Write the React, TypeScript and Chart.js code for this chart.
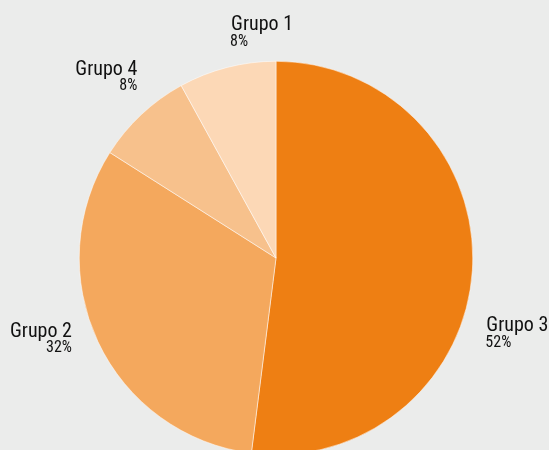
import React, { useEffect, useRef } from "react";
import { Chart, registerables } from "chart.js";

Chart.register(...registerables);

const categories = ["Grupo 3", "Grupo 2", "Grupo 4", "Grupo 1"];
const values = [52, 32, 8, 8];
const colors = ["#ee7f13", "#f4a85d", "#f7c18c", "#fcd8b6"];

// label layout (offsets from the arc's outer mid-point), styling only
const labelAlign: ("left" | "right")[] = ["left", "right", "right", "left"];
const labelOffsets: [number, number][] = [
  [14, 61],
  [-26, -5],
  [-4, -40],
  [4, -37],
];

const FONT = "'Liberation Sans Narrow', 'Roboto Condensed', 'Arial Narrow', Roboto, sans-serif";

const labelPlugin = {
  id: "outerLabels",
  afterDraw(chart: any) {
    const ctx = chart.ctx;
    const meta = chart.getDatasetMeta(0);
    const data = chart.data.datasets[0].data as number[];
    const total = data.reduce((a, b) => a + b, 0);
    ctx.save();
    meta.data.forEach((arc: any, i: number) => {
      const p = arc.getProps(["x", "y", "startAngle", "endAngle", "outerRadius"], true);
      const mid = (p.startAngle + p.endAngle) / 2;
      const ax = p.x + Math.cos(mid) * p.outerRadius;
      const ay = p.y + Math.sin(mid) * p.outerRadius;
      const x = ax + labelOffsets[i][0];
      const y = ay + labelOffsets[i][1];
      ctx.fillStyle = "#111111";
      ctx.textAlign = labelAlign[i];
      ctx.textBaseline = "alphabetic";
      ctx.font = `20px ${FONT}`;
      ctx.fillText(chart.data.labels[i], x, y);
      ctx.font = `16px ${FONT}`;
      const pct = Math.round((data[i] / total) * 100) + "%";
      ctx.fillText(pct, x + (labelAlign[i] === "left" ? -1 : 0), y + 15.5);
    });
    ctx.restore();
  },
};

export default function App() {
  const ref = useRef<HTMLCanvasElement | null>(null);
  useEffect(() => {
    document.body.style.margin = "0";
    const canvas = ref.current!;
    const chart = new Chart(canvas, {
      type: "pie",
      data: {
        labels: categories,
        datasets: [
          {
            data: values,
            backgroundColor: colors,
            borderColor: "#ffffff",
            borderWidth: 0.5,
          },
        ],
      },
      options: {
        responsive: false,
        animation: false,
        devicePixelRatio: 1,
        layout: { padding: { top: 61, bottom: 15, left: 79, right: 76 } },
        plugins: {
          legend: { display: false },
          tooltip: { enabled: false },
        },
      },
      plugins: [labelPlugin],
    });
    return () => chart.destroy();
  }, []);
  return (
    <div style={{ width: 549, height: 450, overflow: "hidden", background: "#ebeceb" }}>
      <canvas ref={ref} width={549} height={470} style={{ width: 549, height: 470, display: "block" }} />
    </div>
  );
}
